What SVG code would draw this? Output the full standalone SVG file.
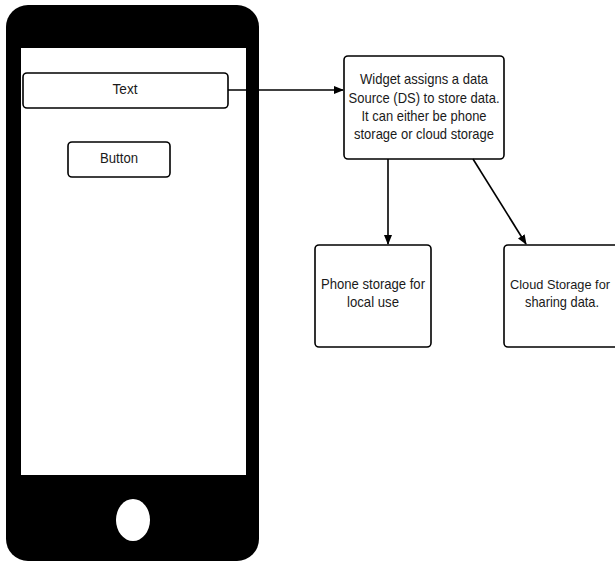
<svg xmlns="http://www.w3.org/2000/svg" width="615" height="563" viewBox="0 0 615 563">
<style>
.box{fill:#fff;stroke:#000;stroke-width:1.6}
.t{font-family:"Liberation Sans",Arial,sans-serif;font-size:15px;fill:#1a1a1a;text-anchor:middle}
.c{stroke:#000;stroke-width:1.6;fill:none}
</style>
<defs>
<marker id="ah" markerWidth="10" markerHeight="8" refX="9" refY="4" orient="auto" markerUnits="userSpaceOnUse">
<path d="M0,0 L10,4 L0,8 Z" fill="#000"/>
</marker>
</defs>
<rect width="615" height="563" fill="#fff"/>
<g id="phone">
<rect x="6" y="5" width="253" height="556" rx="22" fill="#000"/>
<rect x="21" y="48" width="225" height="427" fill="#fff"/>
<ellipse cx="133" cy="520" rx="17" ry="21" fill="#fff"/>
</g>
<g id="text-field">
<rect class="box" x="23" y="73" width="205" height="35" rx="4"/>
<text class="t" x="125" y="94" textLength="25" lengthAdjust="spacingAndGlyphs">Text</text>
</g>
<g id="button">
<rect class="box" x="68" y="142" width="102" height="35" rx="4"/>
<text class="t" x="119" y="163" textLength="38" lengthAdjust="spacingAndGlyphs">Button</text>
</g>
<g id="ds">
<rect class="box" x="344" y="56" width="160" height="103" rx="4"/>
<text class="t" x="424" y="84" textLength="128" lengthAdjust="spacingAndGlyphs">Widget assigns a data</text>
<text class="t" x="424" y="103" textLength="151" lengthAdjust="spacingAndGlyphs">Source (DS) to store data.</text>
<text class="t" x="424" y="121" textLength="125" lengthAdjust="spacingAndGlyphs">It can either be phone</text>
<text class="t" x="424" y="139" textLength="140" lengthAdjust="spacingAndGlyphs">storage or cloud storage</text>
</g>
<g id="phone-storage">
<rect class="box" x="315" y="245" width="116" height="102" rx="4"/>
<text class="t" x="373" y="289" textLength="104" lengthAdjust="spacingAndGlyphs">Phone storage for</text>
<text class="t" x="373" y="307" textLength="52" lengthAdjust="spacingAndGlyphs">local use</text>
</g>
<g id="cloud-storage">
<rect class="box" x="504" y="245" width="120" height="102" rx="4"/>
<text class="t" x="560" y="289" textLength="100" lengthAdjust="spacingAndGlyphs" style="font-size:13px">Cloud Storage for</text>
<text class="t" x="562" y="307" textLength="74" lengthAdjust="spacingAndGlyphs">sharing data.</text>
</g>
<g id="connectors">
<path class="c" d="M228,90 L343,90" marker-end="url(#ah)"/>
<path class="c" d="M388,159 L388,244" marker-end="url(#ah)"/>
<path class="c" d="M473,159 L526,244" marker-end="url(#ah)"/>
</g>
</svg>
